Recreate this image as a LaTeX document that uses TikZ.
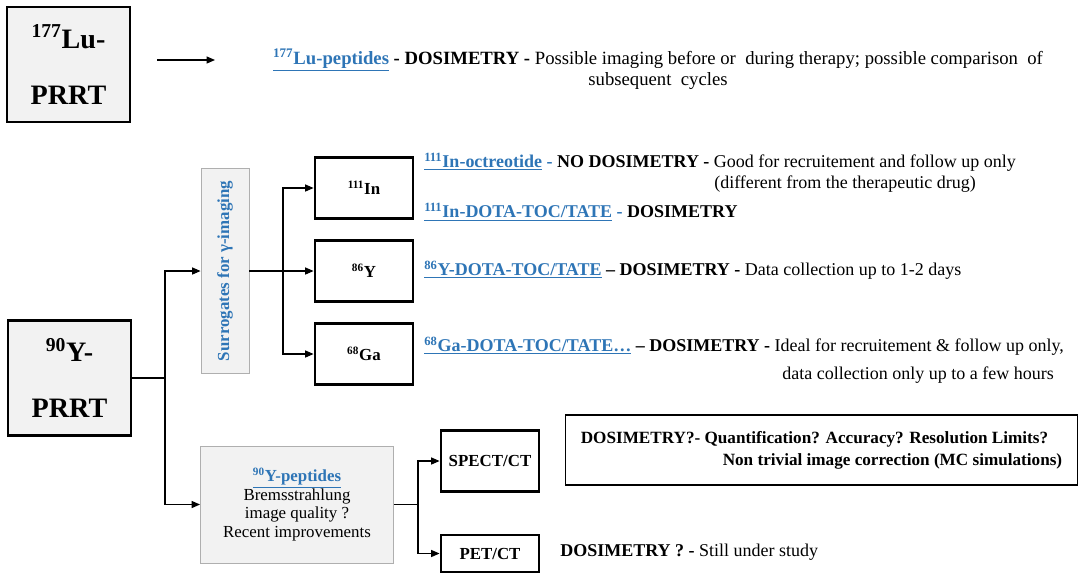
\documentclass[tikz,border=0pt]{standalone}
\usepackage{fontspec}
\setmainfont{Liberation Serif}
\usetikzlibrary{arrows.meta,positioning}
\definecolor{linkblue}{RGB}{46,117,182}
\definecolor{boxgray}{RGB}{242,242,242}
\definecolor{edgegray}{RGB}{175,175,175}
\newcommand{\lnk}[1]{\textcolor{linkblue}{\underline{\textbf{#1}}}}
\newcommand{\iso}[2]{\textsuperscript{#1}#2}

\begin{document}
\begin{tikzpicture}[x=0.025cm,y=-0.025cm,
  prrt/.style={draw,line width=2pt,fill=boxgray,minimum width=3.075cm,minimum height=2.875cm,
    align=center,font=\fontsize{20}{40}\selectfont\bfseries},
  isobox/.style={draw,line width=2pt,fill=white,minimum width=2.45cm,minimum height=1.525cm,
    font=\fontsize{12}{14}\selectfont\bfseries},
  greybox/.style={draw=edgegray,fill=boxgray,line width=0.6pt},
  txt/.style={inner sep=0pt,font=\fontsize{12.8}{13}\selectfont},
  wire/.style={line width=0.8pt},
  link/.style={wire,-{Triangle[length=6pt,width=5pt]}}
]
  \useasboundingbox (0,0) rectangle (1080,575);
  \node[prrt] (lu) at (68.5,64.5) {\iso{177}{Lu-}\\PRRT};
  \node[prrt] (yt) at (69.5,378) {\iso{90}{Y-}\\PRRT};
  \node[greybox,rotate=90,minimum width=5.125cm,minimum height=1.2cm,text=linkblue,
    font=\fontsize{12}{14}\selectfont\bfseries] (surr) at (225,271) {Surrogates for γ-imaging};
  \node[greybox,minimum width=4.825cm,minimum height=2.925cm,align=center,
    font=\fontsize{12}{13.2}\selectfont] (pep) at (297,504.5)
    {\lnk{\iso{90}{Y-peptides}}\\Bremsstrahlung\\image quality ?\\Recent improvements};
  \node[isobox] (in) at (364,188) {\iso{111}{In}};
  \node[isobox] (ysix) at (364,271) {\iso{86}{Y}};
  \node[isobox] (ga) at (364,354) {\iso{68}{Ga}};
  \node[isobox] (spect) at (490,461) {SPECT/CT};
  \node[isobox,minimum height=0.925cm] (pet) at (490,553.5) {PET/CT};
  \node[draw,line width=1.2pt,minimum width=12.8cm,minimum height=1.75cm,align=right,
    font=\fontsize{12.2}{15.6}\selectfont\bfseries] (note) at (821.5,450)
    {DOSIMETRY?- Quantification? Accuracy? Resolution Limits?\hspace*{0.35cm}\\
     Non trivial image correction (MC simulations)};

  \node[txt,align=center,font=\fontsize{13.3}{13.6}\selectfont] (lutext) at (658,69)
    {\lnk{\iso{177}{Lu-peptides}} \textbf{- DOSIMETRY -} Possible imaging before or\ \ during therapy; possible comparison\ \ of\\
     subsequent\ \ cycles};
  \node[txt,anchor=west] (intext) at (424,162)
    {\lnk{\iso{111}{In-octreotide}} \textbf{\textcolor{linkblue}{-} NO DOSIMETRY -} Good for recruitement and follow up only};
  \node[txt,anchor=west] (intextb) at (714,184) {(different from the therapeutic drug)};
  \node[txt,anchor=west] (dotatext) at (424,212)
    {\lnk{\iso{111}{In-DOTA-TOC/TATE}} \textbf{\textcolor{linkblue}{-} DOSIMETRY}};
  \node[txt,anchor=west] (ytext) at (424,270)
    {\lnk{\iso{86}{Y-DOTA-TOC/TATE}} \textbf{– DOSIMETRY -} Data collection up to 1-2 days};
  \node[txt,anchor=west] (gatext) at (424,346)
    {\lnk{\iso{68}{Ga-DOTA-TOC/TATE…}} \textbf{– DOSIMETRY -} Ideal for recruitement \& follow up only,};
  \node[txt,anchor=east] (gatextb) at (1054,375) {data collection only up to a few hours};
  \node[txt,anchor=west] (pettext) at (560,552) {\textbf{DOSIMETRY ? -} Still under study};

  \coordinate (luA) at (157,60);
  \coordinate (luB) at (215,60);
  \draw[link] (luA) -- (luB);

  \coordinate (ysplit) at (165,378);
  \draw[wire] (yt.east) -- (ysplit);
  \draw[link] (ysplit) |- (surr.north);
  \draw[link] (ysplit) |- (pep.west);

  \coordinate (ssplit) at (283,271);
  \draw[wire] (surr.south) -- (ssplit);
  \foreach \t in {in,ysix,ga}
    \draw[link] (ssplit) |- (\t.west);

  \coordinate (psplit) at (418,504.5);
  \draw[wire] (pep.east) -- (psplit);
  \foreach \t in {spect,pet}
    \draw[link] (psplit) |- (\t.west);
\end{tikzpicture}
\end{document}
